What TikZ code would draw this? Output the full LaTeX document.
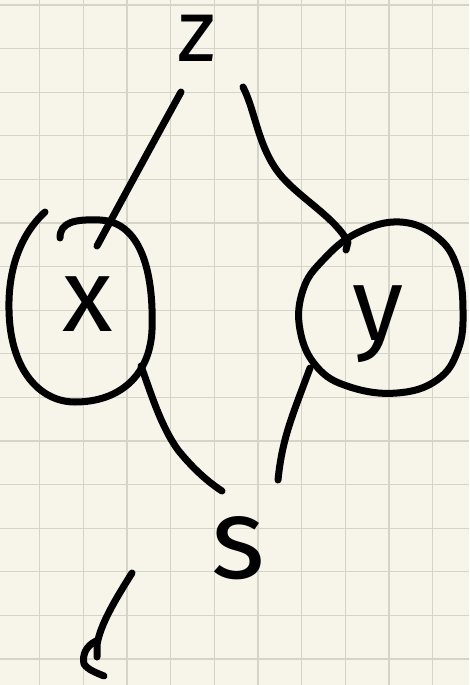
\documentclass[tikz,border=0pt]{standalone}
\usepackage{fontspec}
\setmainfont{Fira Sans}
\definecolor{paper}{RGB}{247,245,233}
\definecolor{gridc}{RGB}{212,213,200}
\begin{document}
\begin{tikzpicture}[x=1pt,y=-1pt,
  ink/.style={line width=7pt, line cap=round, line join=round, black},
  gridline/.style={gridc, line width=1.3pt},
  letter/.style={inner sep=0pt, text=black, font=\fontsize{#1}{#1}\selectfont},
]
\fill[paper] (0,0) rectangle (469,685);
\useasboundingbox (0,0) rectangle (469,685);
\foreach \k in {0,...,9} \draw[gridline] ({39.5+43.7*\k},0) -- ({39.5+43.7*\k},685);
\foreach \k in {0,...,15} \draw[gridline] (0,{5+43.6*\k}) -- (469,{5+43.6*\k});

% letters
\node[letter=88] (z) at (197,38) {z};
\node[letter=104] (xl) at (88,304) {x};
\node[letter=104] (yl) at (378,324) {y};
\node[letter=115] (s) at (238,548) {s};

% hand-drawn ring round x
\draw[ink] (45,212) .. controls (20,235) and (8,270) .. (9,310)
  .. controls (10,370) and (40,402) .. (75,402)
  .. controls (120,402) and (150,375) .. (152,330)
  .. controls (154,270) and (140,222) .. (100,220)
  .. controls (75,219) and (60,222) .. (60,238);

% hand-drawn ring round y
\draw[ink] plot[smooth cycle, tension=0.7] coordinates {(400,222) (437,237) (457,267) (463,310) (458,350) (437,380) (397,393) (350,387) (317,367) (300,330) (303,290) (323,260) (357,233)};

% connector end points
\coordinate (zx) at (181,92);
\coordinate (xz) at (97,246);
\coordinate (zy) at (243,87);
\coordinate (yz) at (348,242);
\coordinate (yzend) at (346,250);
\coordinate (xs) at (141,366);
\coordinate (sx) at (222,491);
\coordinate (ys) at (310,368);
\coordinate (sy) at (278,480);

\draw[ink] (zx) .. controls (160,130) and (130,185) .. (xz);
\draw[ink] (zy) .. controls (256,112) and (258,150) .. (283,178)
  .. controls (303,200) and (335,218) .. (yz) -- (yzend);
\draw[ink] (xs) .. controls (150,390) and (160,425) .. (178,450)
  .. controls (190,465) and (205,480) .. (sx);
\draw[ink] (ys) .. controls (300,395) and (290,420) .. (285,440)
  .. controls (281,455) and (279,470) .. (sy);

% stray stroke at the bottom
\coordinate (m1) at (132,573);
\coordinate (m2) at (97,657);
\coordinate (m3) at (96,641);
\coordinate (m4) at (104,676);
\draw[ink] (m1) .. controls (115,600) and (100,625) .. (97,645) -- (m2);
\draw[ink] (m3) .. controls (86,646) and (82,655) .. (84,664)
  .. controls (88,670) and (97,673) .. (m4);
\end{tikzpicture}
\end{document}
